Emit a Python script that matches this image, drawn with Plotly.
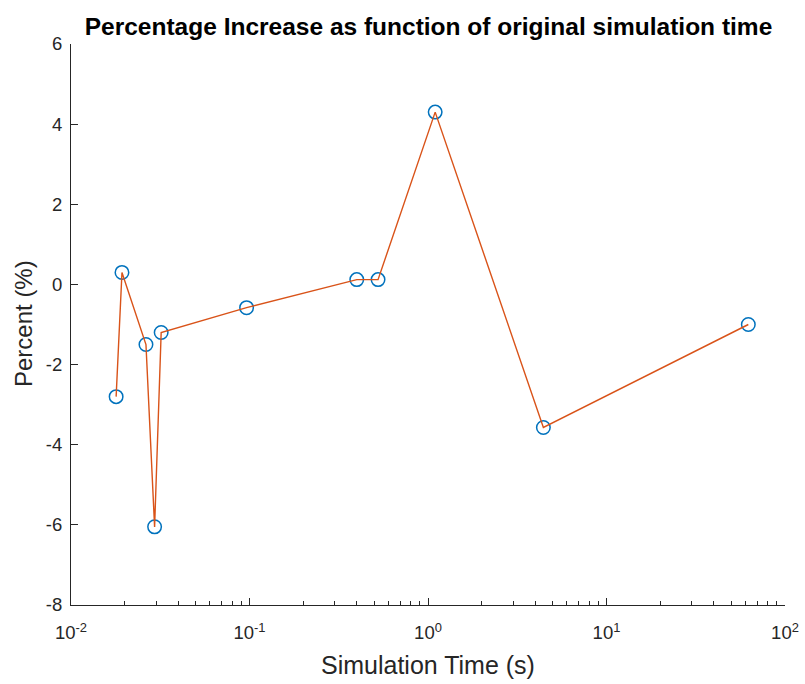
import plotly.graph_objects as go

# Original simulation times (s) and the percentage increase measured for each
sim_time = [0.0179, 0.0193, 0.0263, 0.0294, 0.0320, 0.0963, 0.399, 0.525, 1.097, 4.43, 62.3]
pct_increase = [-2.8, 0.3, -1.5, -6.05, -1.2, -0.58, 0.12, 0.12, 4.3, -3.57, -1.0]

x_tick_vals = [0.01, 0.1, 1, 10, 100]
x_tick_text = ["10<sup>-2</sup>", "10<sup>-1</sup>", "10<sup>0</sup>", "10<sup>1</sup>", "10<sup>2</sup>"]
y_tick_vals = [-8, -6, -4, -2, 0, 2, 4, 6]
y_tick_text = ["-8", "-6", "-4", "-2", "0", "2", "4", "6"]

minor_vals = [m * 10.0 ** e for e in range(-2, 2) for m in range(2, 10)]

AXIS_GREY = "#262626"
FONT = "Liberation Sans, Arial, Helvetica, sans-serif"

fig = go.Figure()

# open circle markers
fig.add_trace(go.Scatter(
    x=sim_time, y=pct_increase, mode="markers",
    marker=dict(symbol="circle-open", size=13.5, color="#0072BD",
                line=dict(width=1.5, color="#0072BD")),
    showlegend=False, hoverinfo="skip",
))
# connecting line drawn over the markers
fig.add_trace(go.Scatter(
    x=sim_time, y=pct_increase, mode="lines",
    line=dict(color="#D95319", width=1.4),
    showlegend=False,
))

fig.update_layout(
    width=805, height=684,
    margin=dict(l=71, r=20, t=44, b=79),
    paper_bgcolor="white", plot_bgcolor="white",
    font=dict(family=FONT, color=AXIS_GREY, size=16),
    title=dict(
        text="<b>Percentage Increase as function of original simulation time</b>",
        font=dict(family=FONT, size=24.5, color="black"),
        x=428.5 / 805, xanchor="center", y=1 - 26 / 684, yanchor="middle",
    ),
    xaxis=dict(
        type="log", range=[-2, 2], automargin=False,
        tickvals=x_tick_vals, ticktext=x_tick_text,
        ticks="inside", ticklen=7, tickwidth=1, tickcolor=AXIS_GREY,
        minor=dict(tickvals=minor_vals, ticks="inside", ticklen=4, tickwidth=1, tickcolor=AXIS_GREY),
        showline=True, linecolor=AXIS_GREY, linewidth=1.2,
        showgrid=False, zeroline=False, mirror=False,
        tickfont=dict(size=18.5, color=AXIS_GREY),
        ticklabelstandoff=11,
    ),
    yaxis=dict(
        range=[-8, 6], automargin=False,
        tickvals=y_tick_vals, ticktext=y_tick_text,
        ticks="inside", ticklen=7, tickwidth=1, tickcolor=AXIS_GREY,
        showline=True, linecolor=AXIS_GREY, linewidth=1.2,
        showgrid=False, zeroline=False, mirror=False,
        tickfont=dict(size=18.5, color=AXIS_GREY),
        ticklabelstandoff=4,
    ),
    annotations=[
        dict(text="Simulation Time (s)", xref="paper", yref="paper",
             x=(427.5 - 71) / (785 - 71), y=-(665 - 605) / (605 - 44),
             xanchor="center", yanchor="middle", showarrow=False,
             font=dict(family=FONT, size=25, color=AXIS_GREY)),
        dict(text="Percent (%)", xref="paper", yref="paper",
             x=-(71 - 23) / (785 - 71), y=(605 - 324) / (605 - 44),
             xanchor="center", yanchor="middle", showarrow=False, textangle=-90,
             font=dict(family=FONT, size=24, color=AXIS_GREY)),
    ],
)

fig.write_html("out.html")
